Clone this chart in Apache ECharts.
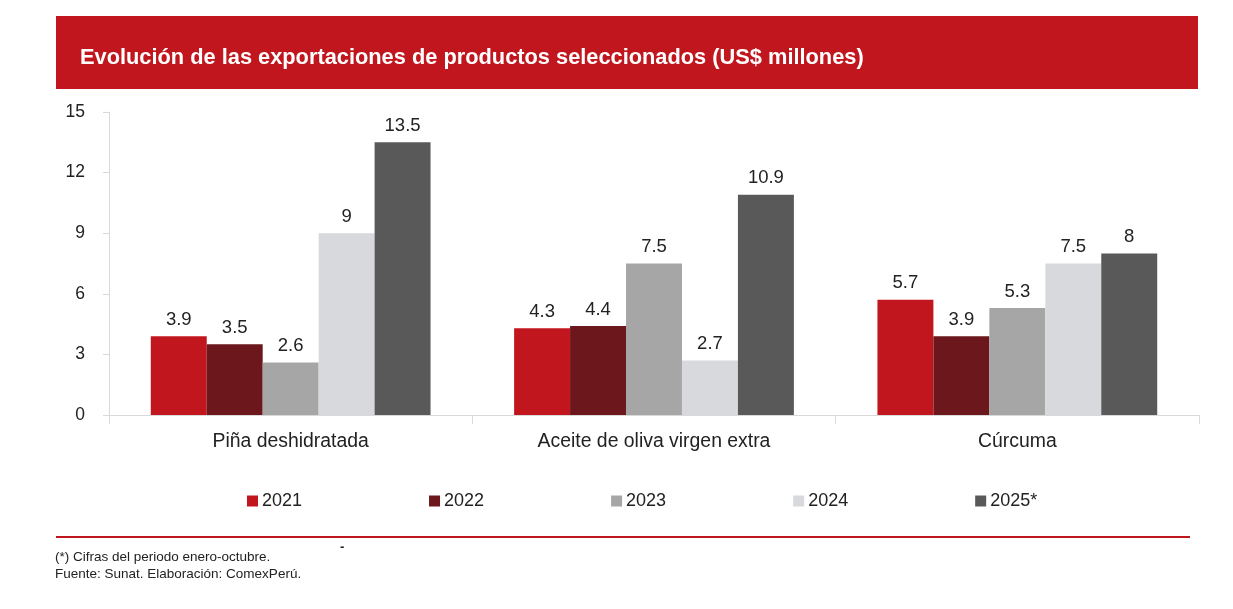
<!DOCTYPE html>
<html lang="es">
<head>
  <meta charset="UTF-8">
  <title>Exportaciones productos seleccionados</title>
  <script src="https://cdn.jsdelivr.net/npm/echarts@6/dist/echarts.min.js"></script>
  <style>
    html, body { margin: 0; padding: 0; background: #fff; }
    #chart { width: 1233px; height: 609px; }
  </style>
</head>
<body>
<div id="chart"></div>
<script>
  // data
  const products = ['Piña deshidratada', 'Aceite de oliva virgen extra', 'Cúrcuma'];
  const years = ['2021', '2022', '2023', '2024', '2025*'];
  const v2021 = [3.9, 4.3, 5.7];
  const v2022 = [3.5, 4.4, 3.9];
  const v2023 = [2.6, 7.5, 5.3];
  const v2024 = [9, 2.7, 7.5];
  const v2025 = [13.5, 10.9, 8];
  const yearColors = ['#c1161d', '#6b171c', '#a6a6a6', '#d8d9dd', '#595959'];
  const yTicks = [0, 3, 6, 9, 12, 15];

  const font = '"Liberation Sans", Arial, sans-serif';
  const values = [v2021, v2022, v2023, v2024, v2025];

  let chart = echarts.init(document.getElementById('chart'));
  let option = {
    animation: false,
    textStyle: { fontFamily: font },
    title: {
      text: 'Evolución de las exportaciones de productos seleccionados (US$ millones)',
      left: 75,
      top: 42,
      textStyle: { color: '#fff', fontSize: 21.8, fontWeight: 'bold', fontFamily: font }
    },
    graphic: [
      { type: 'rect', z: -1, shape: { x: 56, y: 16, width: 1142, height: 73 }, style: { fill: '#c1161d' } },
      { type: 'rect', shape: { x: 56, y: 536, width: 1134, height: 2 }, style: { fill: '#c1161d' } },
      { type: 'text', left: 55, top: 550, style: { text: '(*) Cifras del periodo enero-octubre.', fill: '#222', font: '13.5px ' + font } },
      { type: 'text', left: 55, top: 567, style: { text: 'Fuente: Sunat. Elaboración: ComexPerú.', fill: '#222', font: '13.5px ' + font } },
      { type: 'text', left: 340, top: 541, style: { text: '-', fill: '#222', font: 'bold 13px ' + font } }
    ],
    legend: {
      left: 242,
      top: 487,
      itemWidth: 11,
      itemHeight: 11,
      itemGap: 127,
      icon: 'rect',
      textStyle: { fontSize: 18, color: '#222', padding: [0, 0, 0, -1] },
      data: years
    },
    grid: { left: 109, right: 34, top: 112, bottom: 194 },
    xAxis: {
      type: 'category',
      data: products,
      axisLine: { lineStyle: { color: '#d9d9d9' } },
      axisTick: { show: true, length: 9, lineStyle: { color: '#d9d9d9' } },
      axisLabel: { fontSize: 19.4, color: '#222', margin: 17 }
    },
    yAxis: {
      type: 'value',
      min: yTicks[0],
      max: yTicks[yTicks.length - 1],
      interval: 3,
      axisLine: { show: true, lineStyle: { color: '#d9d9d9' } },
      axisTick: { show: true, length: 6, lineStyle: { color: '#d9d9d9' } },
      splitLine: { show: false },
      axisLabel: { fontSize: 17.5, color: '#222', margin: 24 }
    },
    series: years.map(function (y, i) {
      return {
        name: y,
        type: 'bar',
        data: values[i],
        barGap: '0%',
        barCategoryGap: '23%',
        itemStyle: { color: yearColors[i] },
        label: { show: true, position: 'top', distance: 7, fontSize: 18.5, color: '#222' }
      };
    })
  };
  chart.setOption(option);
</script>
</body>
</html>
